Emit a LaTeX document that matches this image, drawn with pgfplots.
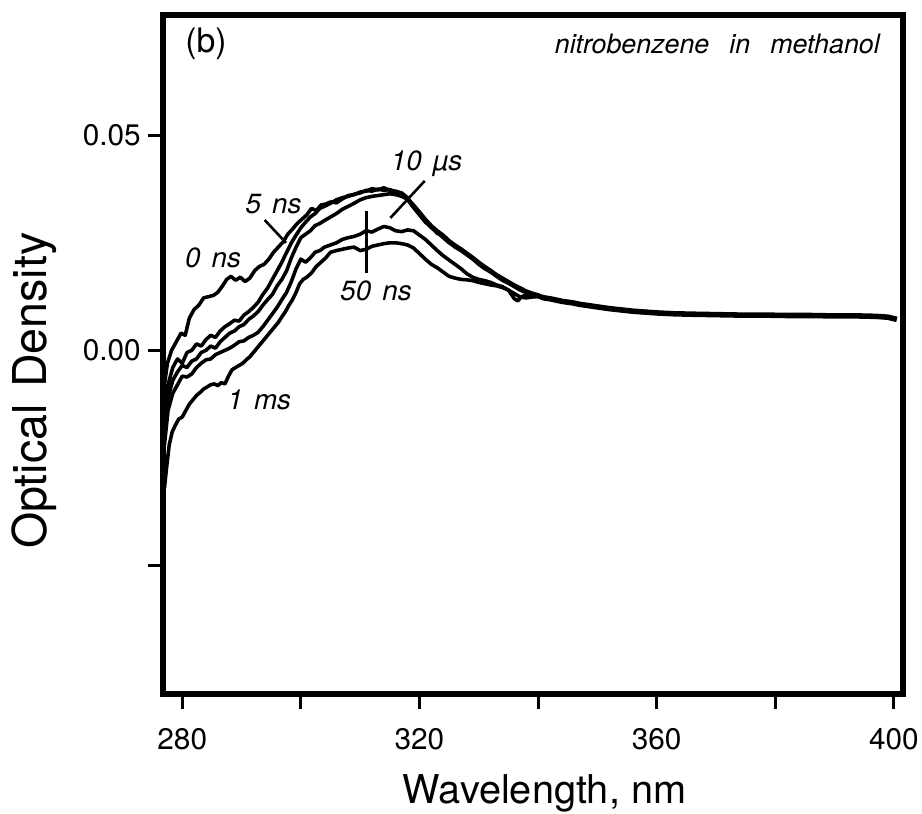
\documentclass[border=0pt]{standalone}
\usepackage{pgfplots}
\pgfplotsset{compat=1.18}
\usepackage{fontspec}
\setmainfont{TeX Gyre Heros}
\pgfplotsset{spec/.style={black, no markers, line width=1.8pt, line join=round}}
\begin{document}
\begin{tikzpicture}
\begin{axis}[
  scale only axis, width=373pt, height=342.5pt,
  xmin=276.7, xmax=401.5, ymin=-0.08, ymax=0.078,
  axis line style={line width=3pt},
  xtick pos=bottom, ytick pos=left,
  tick align=outside, major tick length=7.5pt,
  tick style={line width=1.5pt, black},
  scaled y ticks=false, scaled x ticks=false,
  xtick={280,300,...,400}, xticklabels={280,,320,,360,,400},
  ytick={-0.05,0,0.05}, yticklabels={,0.00,0.05},
  tick label style={font=\fontsize{15}{17}\selectfont},
  xticklabel style={yshift=-6pt},
  /pgf/number format/assume math mode=true,
  xlabel={Wavelength, nm},
  ylabel={Optical\hspace{0.35em}Density},
  xlabel style={font=\fontsize{20}{24}\selectfont, at={(axis description cs:0.516,-0.146)}, anchor=center},
  ylabel style={font=\fontsize{23.5}{27}\selectfont, at={(axis description cs:-0.173,0.447)}, anchor=center},
  clip=true,
]
% 0 ns
\addplot[spec] coordinates {(277.0,-0.008) (277.5,-0.003) (278.2,0.000) (279.0,0.002) (279.8,0.004) (280.5,0.0035) (281.2,0.0075) (282.0,0.0095) (282.8,0.0105) (283.6,0.0122) (284.5,0.0125) (285.3,0.0128) (286.0,0.0135) (286.8,0.0150) (287.5,0.0165) (288.2,0.0172) (289.0,0.0163) (289.8,0.0170) (290.6,0.0160) (291.4,0.0168) (292.2,0.0185) (293.0,0.0195) (293.8,0.0200) (294.6,0.0212) (295.4,0.0228) (296.2,0.0240) (297.0,0.0252) (297.8,0.0270) (298.6,0.0282) (299.4,0.0295) (300.2,0.0305) (301.0,0.0315) (301.8,0.0330) (302.6,0.0325) (303.4,0.0338) (304.2,0.0340) (305.0,0.0345) (306.0,0.0343) (307.0,0.0352) (308.0,0.0360) (309.0,0.0362) (310.0,0.0368) (311.0,0.0370) (312.0,0.0376) (313.0,0.0373) (314.0,0.0378) (315.0,0.0372) (316.0,0.0370) (317.0,0.0366) (318.0,0.0355) (319.0,0.0335) (320.0,0.0318) (321.0,0.0300) (322.0,0.0285) (323.0,0.0275) (324.0,0.0262) (325.0,0.0250) (326.0,0.0242) (327.0,0.0235) (328.0,0.0225) (329.0,0.0215) (330.0,0.0202) (331.0,0.0192) (332.0,0.0185) (333.0,0.0175) (334.0,0.0166) (335.0,0.0158) (336.0,0.0150) (337.0,0.0143) (338.0,0.0135) (339.0,0.0132) (340.0,0.0128) (341,0.0122)};
% 5 ns
\addplot[spec] coordinates {(277.0,-0.014) (277.6,-0.008) (278.4,-0.004) (279.2,-0.002) (280.0,-0.003) (280.8,-0.0005) (281.6,0.000) (282.4,0.0015) (283.2,0.001) (284.0,0.0025) (284.8,0.0035) (285.6,0.003) (286.4,0.0045) (287.2,0.0055) (288.0,0.0062) (288.8,0.0070) (289.6,0.0068) (290.4,0.0082) (291.2,0.0090) (292.0,0.0100) (292.8,0.0112) (293.6,0.0130) (294.4,0.0145) (295.2,0.0165) (296.0,0.0185) (296.8,0.0205) (297.6,0.0228) (298.4,0.0250) (299.2,0.0268) (300.0,0.0285) (300.8,0.0298) (301.6,0.0310) (302.4,0.0318) (303.2,0.0330) (304.0,0.0335) (305.0,0.0342) (306.0,0.0350) (307.0,0.0355) (308.0,0.0358) (309.0,0.0363) (310.0,0.0366) (311.0,0.0372) (312.0,0.0370) (313.0,0.0375) (314.0,0.0372) (315.0,0.0374) (316.0,0.0367) (317.0,0.0362) (318.0,0.0350) (319.0,0.0332) (320.0,0.0315) (321.0,0.0298) (322.0,0.0287) (323.0,0.0272) (324.0,0.0265) (325.0,0.0252) (326.0,0.0240) (327.0,0.0232) (328.0,0.0222) (329.0,0.0212) (330.0,0.0200) (331.0,0.0190) (332.0,0.0182) (333.0,0.0172) (334.0,0.0163) (335.0,0.0156) (336.0,0.0148) (337.0,0.0140) (338.0,0.0134) (339.0,0.0130) (340.0,0.0126) (341,0.0122)};
% 10 us
\addplot[spec] coordinates {(277.0,-0.018) (277.6,-0.011) (278.4,-0.007) (279.2,-0.005) (280.0,-0.0035) (280.8,-0.004) (281.6,-0.0025) (282.4,-0.002) (283.2,-0.0005) (284.0,0.000) (284.8,0.001) (285.6,0.0005) (286.4,0.002) (287.2,0.003) (288.0,0.004) (288.8,0.0045) (289.6,0.0055) (290.4,0.006) (291.2,0.0072) (292.0,0.0080) (292.8,0.0090) (293.6,0.0105) (294.4,0.0118) (295.2,0.0130) (296.0,0.0150) (296.8,0.0165) (297.6,0.0185) (298.4,0.0215) (299.2,0.0240) (300.0,0.0262) (300.8,0.0270) (301.6,0.0278) (302.4,0.0290) (303.2,0.0295) (304.0,0.0302) (305.0,0.0310) (306.0,0.0318) (307.0,0.0328) (308.0,0.0335) (309.0,0.0342) (310.0,0.0350) (311.0,0.0355) (312.0,0.0358) (313.0,0.0360) (314.0,0.0362) (315.0,0.0364) (316.0,0.0362) (317.0,0.0358) (318.0,0.0352) (319.0,0.0338) (320.0,0.0322) (321.0,0.0305) (322.0,0.0290) (323.0,0.0278) (324.0,0.0268) (325.0,0.0255) (326.0,0.0245) (327.0,0.0236) (328.0,0.0226) (329.0,0.0216) (330.0,0.0205) (331.0,0.0195) (332.0,0.0186) (333.0,0.0176) (334.0,0.0168) (335.0,0.0160) (336.0,0.0152) (337.0,0.0145) (338.0,0.0138) (339.0,0.0133) (340.0,0.0129) (341,0.0122)};
% 50 ns
\addplot[spec] coordinates {(277.0,-0.022) (277.6,-0.014) (278.4,-0.010) (279.2,-0.008) (280.0,-0.006) (280.8,-0.0062) (281.6,-0.0055) (282.4,-0.004) (283.2,-0.003) (284.0,-0.0022) (284.8,-0.0020) (285.6,-0.001) (286.4,-0.0005) (287.2,0.000) (288.0,0.0005) (288.8,0.0012) (289.6,0.0020) (290.4,0.0022) (291.2,0.0030) (292.0,0.0035) (292.8,0.0042) (293.6,0.0055) (294.4,0.0070) (295.2,0.0085) (296.0,0.0100) (296.8,0.0118) (297.6,0.0135) (298.4,0.0160) (299.2,0.0190) (300.0,0.0212) (300.8,0.0205) (301.6,0.0215) (302.4,0.0228) (303.2,0.0232) (304.0,0.0240) (305.0,0.0245) (306.0,0.0250) (307.0,0.0258) (308.0,0.0262) (309.0,0.0265) (310.0,0.0270) (311.0,0.0278) (312.0,0.0275) (313.0,0.0282) (314.0,0.0288) (315.0,0.0285) (316.0,0.0278) (317.0,0.0276) (318.0,0.0280) (319.0,0.0278) (320.0,0.0268) (321.0,0.0258) (322.0,0.0245) (323.0,0.0232) (324.0,0.0220) (325.0,0.0210) (326.0,0.0200) (327.0,0.0190) (328.0,0.0178) (329.0,0.0170) (330.0,0.0165) (331.0,0.0162) (332.0,0.0158) (333.0,0.0152) (334.0,0.0148) (335.0,0.0140) (336.0,0.0120) (336.6,0.0115) (337.2,0.0125) (338.0,0.0128) (339.0,0.0127) (340.0,0.0125) (341,0.0122)};
% 1 ms
\addplot[spec] coordinates {(277.0,-0.032) (277.3,-0.028) (277.8,-0.022) (278.3,-0.019) (278.8,-0.0175) (279.4,-0.016) (280.0,-0.0155) (280.6,-0.014) (281.2,-0.0125) (281.8,-0.0115) (282.4,-0.0105) (283.0,-0.0098) (283.6,-0.0090) (284.2,-0.0085) (284.8,-0.0080) (285.4,-0.0078) (286.0,-0.0082) (286.6,-0.0075) (287.2,-0.0078) (287.8,-0.0060) (288.4,-0.0045) (289.0,-0.0040) (289.6,-0.0035) (290.2,-0.0030) (290.8,-0.0022) (291.4,-0.0015) (292.0,-0.0005) (292.6,0.0005) (293.2,0.0015) (293.8,0.0025) (294.4,0.0035) (295.0,0.0045) (295.6,0.0055) (296.2,0.0065) (296.8,0.0078) (297.4,0.0090) (298.0,0.0105) (298.6,0.0118) (299.2,0.0135) (299.8,0.0155) (300.4,0.0165) (301.0,0.0170) (301.8,0.0180) (302.6,0.0195) (303.4,0.0205) (304.2,0.0215) (305.0,0.0228) (306.0,0.0232) (307.0,0.0235) (308.0,0.0238) (309.0,0.0240) (310.0,0.0232) (311.0,0.0235) (312.0,0.0242) (313.0,0.0245) (314.0,0.0248) (315.0,0.0250) (316.0,0.0250) (317.0,0.0248) (318.0,0.0245) (319.0,0.0238) (320.0,0.0225) (321.0,0.0212) (322.0,0.0200) (323.0,0.0192) (324.0,0.0182) (325.0,0.0172) (326.0,0.0168) (327.0,0.0165) (328.0,0.0164) (329.0,0.0162) (330.0,0.0158) (331.0,0.0155) (332.0,0.0152) (333.0,0.0150) (334.0,0.0146) (335.0,0.0140) (336.0,0.0132) (337.0,0.0124) (338.0,0.0122) (339.0,0.0124) (340.0,0.0125) (341,0.0122)};
% merged tail of all five
\addplot[spec, line width=2.8pt] coordinates {(340.5,0.0124) (341,0.0122) (342,0.0120) (343,0.0117) (344,0.0114) (345,0.0112) (346,0.0110) (347,0.0107) (348,0.0105) (349,0.0103) (350,0.0101) (352,0.0097) (354,0.0094) (356,0.0091) (358,0.0089) (360,0.0087) (363,0.0085) (366,0.0084) (370,0.0083) (374,0.0082) (378,0.0082) (382,0.0081) (386,0.0081) (390,0.0080) (394,0.0080) (397,0.0079) (399,0.0077) (400.5,0.0072)};
% annotations
\node[font=\fontsize{17}{20}\selectfont] at (axis cs:284.0,0.0712) {(b)};
\node[font=\fontsize{13.5}{16}\selectfont\itshape, anchor=east] at (axis cs:398.8,0.0712) {nitrobenzene\hspace{0.75em}in\hspace{0.75em}methanol};
\node[font=\fontsize{14}{16}\selectfont\itshape] at (axis cs:285.2,0.0215) {0\hspace{0.4em}ns};
\node[font=\fontsize{14}{16}\selectfont\itshape] at (axis cs:295.4,0.0340) {5\hspace{0.4em}ns};
\node[font=\fontsize{14}{16}\selectfont\itshape] at (axis cs:321.2,0.0433) {10\hspace{0.4em}µs};
\node[font=\fontsize{14}{16}\selectfont\itshape] at (axis cs:312.7,0.0139) {50\hspace{0.4em}ns};
\node[font=\fontsize{14}{16}\selectfont\itshape] at (axis cs:293.0,-0.0116) {1\hspace{0.4em}ms};
\draw[line width=1.3pt] (axis cs:293.9,0.0303) -- (axis cs:297.5,0.0250);
\draw[line width=1.3pt] (axis cs:320.9,0.0394) -- (axis cs:315.1,0.0308);
\draw[line width=1.3pt] (axis cs:311.1,0.0324) -- (axis cs:311.1,0.0180);
\coordinate (BL) at (rel axis cs:-0.2198,-0.1752);
\coordinate (TR) at (rel axis cs:1.026,1.0219);
\end{axis}
\pgfresetboundingbox
\useasboundingbox (BL) rectangle (TR);
\end{tikzpicture}
\end{document}
